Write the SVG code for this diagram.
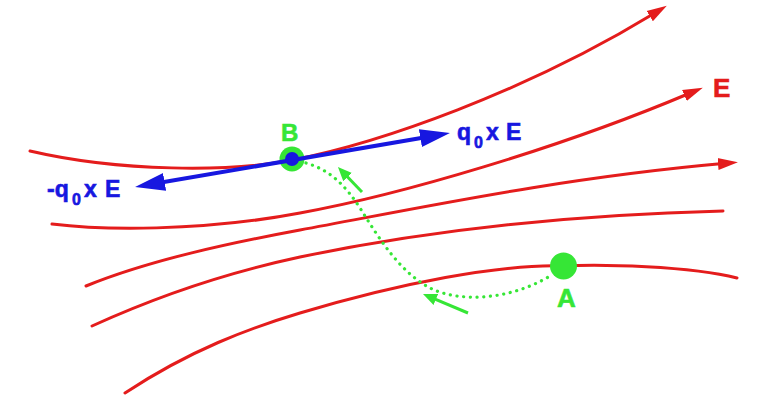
<svg xmlns="http://www.w3.org/2000/svg" width="770" height="400" viewBox="0 0 770 400">
<style>
.fl{fill:none;stroke:#e41c1c;stroke-width:3;stroke-linecap:round}
.lbl{font-family:"Liberation Sans",Arial,sans-serif;font-weight:bold;stroke-width:0.6}
.g{fill:#36e636}
.b{fill:#1717e0}
.r{fill:#e41c1c}
text.g{stroke:#36e636}
text.b{stroke:#1717e0}
text.r{stroke:#e41c1c}
</style>
<defs>
<marker id="ar" markerUnits="userSpaceOnUse" markerWidth="24" markerHeight="16" viewBox="0 -8 24 16" refX="5" refY="0" orient="auto"><path d="M0,-6 L20,0 L0,6 z" fill="#e41c1c"/></marker>
<marker id="ab" markerUnits="userSpaceOnUse" markerWidth="34" markerHeight="22" viewBox="0 -11 34 22" refX="20" refY="0" orient="auto-start-reverse"><path d="M0,-9 L30,0 L0,9 z" fill="#1717e0"/></marker>
<marker id="ag" markerUnits="userSpaceOnUse" markerWidth="16" markerHeight="14" viewBox="0 -7 16 14" refX="8" refY="0" orient="auto"><path d="M0,-6 L14,0 L0,6 z" fill="#36e636"/></marker>
</defs>
<g id="connectors">
<path class="fl" d="M30,151 C120,172 230,172 292,160 C380,143 525,92 654,13.5" marker-end="url(#ar)"/>
<path class="fl" d="M52,224 C100,230 200,232 300,213 C400,195 560,148 689,93.5" marker-end="url(#ar)"/>
<path class="fl" d="M86,286 C150,260 230,243 300,230 C420,208 560,178 723,163.6" marker-end="url(#ar)"/>
<path class="fl" d="M92,326 C160,295 230,272 300,257 C420,232 560,215 723,211"/>
<path class="fl" d="M125,393 C190,350 250,328 300,313 C400,283 500,264 563,266 C600,264 690,266 737,278"/>
<path d="M306,163 C330,170 345,185 360,208 C380,240 400,272 430,288 C460,303 510,300 550,276" fill="none" stroke="#36e636" stroke-width="3.2" stroke-linecap="round" stroke-dasharray="0.1 6.6"/>
<line x1="362" y1="192" x2="342.1" y2="171.3" stroke="#36e636" stroke-width="3" marker-end="url(#ag)"/>
<line x1="468" y1="313" x2="428.5" y2="296.3" stroke="#36e636" stroke-width="3" marker-end="url(#ag)"/>
</g>
<g id="nodeA">
<circle cx="563.5" cy="266" r="13.5" class="g"/>
<text class="lbl g" x="557" y="307" font-size="26">A</text>
</g>
<g id="nodeB">
<circle cx="292" cy="159" r="12.5" class="g"/>
<text class="lbl g" x="281" y="141" font-size="24">B</text>
</g>
<g id="force">
<line x1="144.9" y1="185.3" x2="440.1" y2="134.7" stroke="#1717e0" stroke-width="4" marker-start="url(#ab)" marker-end="url(#ab)"/>
<circle cx="292" cy="159" r="7" class="b"/>
<text class="lbl b" y="140" font-size="23"><tspan x="457">q</tspan><tspan x="474" y="148" font-size="16">0</tspan><tspan x="486" y="140">x</tspan><tspan x="506">E</tspan></text>
<text class="lbl b" y="197" font-size="23"><tspan x="47">-q</tspan><tspan x="72" y="205" font-size="16">0</tspan><tspan x="84" y="197">x</tspan><tspan x="105">E</tspan></text>
</g>
<g id="fieldLabel">
<text class="lbl r" x="713" y="97" font-size="26">E</text>
</g>
</svg>
